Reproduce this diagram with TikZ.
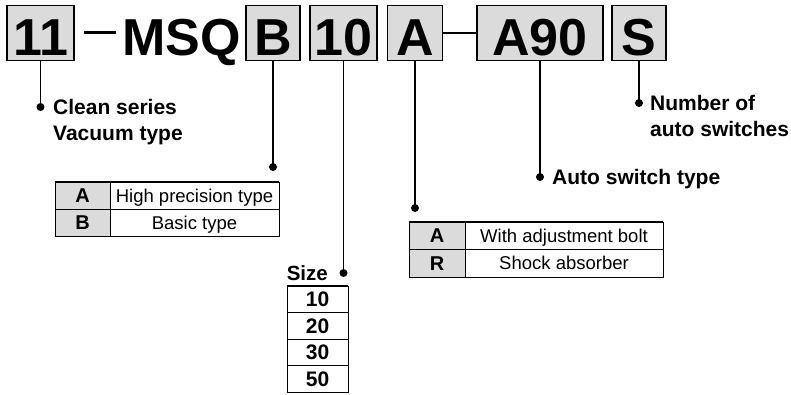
\documentclass[tikz,border=0pt]{standalone}
\usepackage{fontspec}
\setmainfont{Liberation Sans}
\usetikzlibrary{positioning}
\definecolor{codegray}{gray}{0.86}

\tikzset{
    codebox/.style={draw, line width=1.8pt, fill=codegray, inner sep=0pt, minimum height=55pt,
        text height=44pt, text depth=0pt, font=\bfseries\fontsize{52}{52}\selectfont},
    keycell/.style={draw, line width=0.8pt, fill=codegray, inner sep=0pt, outer sep=0pt,
        text height=14.3pt, text depth=0pt, font=\bfseries\fontsize{20}{20}\selectfont},
    desccell/.style={draw, line width=0.8pt, inner sep=0pt, outer sep=0pt,
        text height=13.3pt, text depth=0pt, font=\fontsize{18.5}{18.5}\selectfont},
    sizecell/.style={draw, line width=0.8pt, inner sep=0pt, outer sep=0pt, minimum width=61pt, minimum height=26.5pt,
        text height=15pt, text depth=0pt, font=\bfseries\fontsize{21}{21}\selectfont},
    lead/.style={line width=1.8pt},
    note/.style={inner sep=0pt, align=left, font=\bfseries\fontsize{21}{26}\selectfont},
}

\begin{document}
\begin{tikzpicture}[x=1pt, y=-1pt]
    \useasboundingbox (0,0) rectangle (791,394);

    \node[codebox, minimum width=67pt] (c11) at (40.5,33) {11};
    \node[anchor=base west, inner sep=0pt, font=\bfseries\fontsize{52}{52}\selectfont] (msq) at (122,55) {MSQ};
    \draw[line width=3pt] ([xshift=9pt,yshift=1pt]c11.east) -- ([xshift=41pt,yshift=1pt]c11.east);
    \node[codebox, minimum width=54pt] (cB) at (273,33) {B};
    \node[codebox, minimum width=67pt] (c10) at (343.5,33) {10};
    \node[codebox, minimum width=55pt] (cA) at (415,33) {A};
    \node[codebox, minimum width=126pt] (cA90) at (540,33) {A90};
    \node[codebox, minimum width=54pt] (cS) at (639,33) {S};
    \draw[lead] (cA) -- (cA90);

    \coordinate (d11) at (c11.south |- 0,107); \coordinate (dB) at (cB.south |- 0,167); \coordinate (d10) at (c10.south |- 0,273);
    \coordinate (dA) at (cA.south |- 0,208); \coordinate (dA90) at (cA90.south |- 0,177); \coordinate (dS) at (cS.south |- 0,103);
    \draw[lead] (c11) -- (d11); \draw[lead] (cB) -- (dB); \draw[lead] (c10) -- (d10);
    \draw[lead] (cA) -- (dA); \draw[lead] (cA90) -- (dA90); \draw[lead] (cS) -- (dS);
    \foreach \p in {d11,dB,d10,dA,dA90,dS} {\fill (\p) circle (4pt);}

    \node[note, anchor=north west] (n11) at (53,99.5) {Clean series\\Vacuum type};
    \node[note, anchor=base west] (nA90) at (552,184.5) {Auto switch type};
    \node[note, anchor=north west] (nS) at (650,95.5) {Number of\\auto switches};
    \node[note, anchor=base east, font=\bfseries\fontsize{20.5}{20.5}\selectfont] (nSize) at (328,280.3) {Size};

    % body option
    \node[keycell, minimum width=55pt, minimum height=27pt] (tA) at (82.5,195.5) {A};
    \node[desccell, minimum width=169pt, minimum height=27pt, right=0pt of tA] (tAtxt) {High precision type};
    \node[keycell, minimum width=55pt, minimum height=27pt, below=0pt of tA] (tB) {B};
    \node[desccell, minimum width=169pt, minimum height=27pt, right=0pt of tB] (tBtxt) {Basic type};
    \draw[line width=2pt] (tA.north west) -- (tAtxt.north east);

    % size
    \foreach \s [count=\i] in {10,20,30,50} {\node[sizecell] (s\s) at (317.5,272.75+26.5*\i) {\s};}
    \draw[line width=2pt] (s10.north west) -- (s10.north east);

    % cushion option
    \node[keycell, minimum width=56pt, minimum height=27.5pt] (uA) at (437,235.75) {A};
    \node[desccell, minimum width=198pt, minimum height=27.5pt, right=0pt of uA] (uAtxt) {With adjustment bolt};
    \node[keycell, minimum width=56pt, minimum height=27.5pt, below=0pt of uA] (uR) {R};
    \node[desccell, minimum width=198pt, minimum height=27.5pt, right=0pt of uR] (uRtxt) {Shock absorber};
    \draw[line width=2pt] (uA.north west) -- (uAtxt.north east);
\end{tikzpicture}
\end{document}
